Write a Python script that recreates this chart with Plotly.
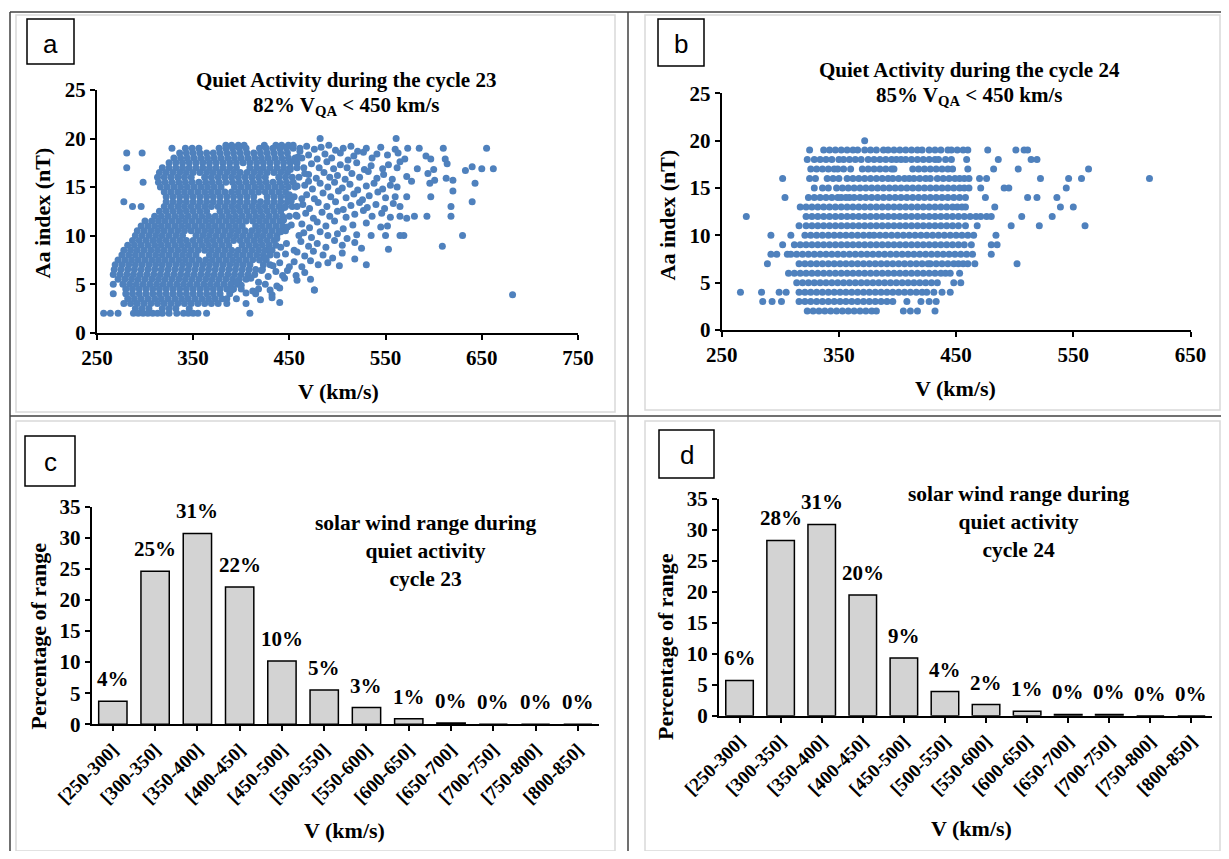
import plotly.graph_objects as go

# page size (browser window) and body margin of the html page
PAGE_W, PAGE_H, BODY = 1229, 859, 8
W, H = PAGE_W - 2 * BODY, PAGE_H - 2 * BODY

# ---------------- Data ----------------
# Panel a: cycle 23 quiet activity, dense core rows of V (km/s) at each Aa level (nT)
A23_LEVELS = [19.3, 19, 18.5, 18, 17.5, 17, 16.5, 16, 15.5, 15, 14.5, 14, 13.5, 13, 12.5, 12,
              11.5, 11, 10.5, 10, 9.5, 9, 8.5, 8, 7.5, 7, 6.5, 6, 5.5, 5, 4.5, 4, 3.5, 3, 2.5, 2]
A23_V_ROWS = [
    [384, 390, 397, 403, 424, 436, 442, 449],
    [328, 342, 349, 356, 377, 384, 391, 398, 405, 419, 426, 433, 440, 447, 454, 461],
    [281, 297, 336, 343, 350, 357, 364, 371, 378, 385, 392, 399, 406, 413, 420, 427, 434, 441, 448],
    [330, 337, 344, 351, 358, 365, 372, 379, 386, 393, 400, 407, 414, 421, 428, 435, 442, 449, 456, 463],
    [325, 332, 339, 346, 353, 360, 367, 374, 381, 388, 395, 402, 409, 416, 423, 430, 437, 444, 451, 458],
    [281, 318, 325, 332, 339, 346, 353, 360, 367, 374, 381, 388, 395, 409, 416, 423, 430, 437, 444, 451, 458, 465],
    [315, 322, 329, 336, 343, 350, 357, 364, 371, 378, 385, 392, 399, 406, 413, 420, 427, 434, 441, 448],
    [313, 320, 327, 334, 341, 348, 362, 369, 376, 383, 390, 397, 404, 411, 418, 425, 439, 446, 453, 460],
    [298, 314, 321, 328, 335, 342, 349, 356, 363, 370, 377, 384, 391, 398, 405, 412, 419, 426, 433, 440, 447, 454],
    [316, 323, 330, 337, 344, 351, 358, 365, 372, 379, 393, 400, 407, 414, 421, 428, 435, 442, 449, 456],
    [320, 327, 334, 341, 348, 355, 362, 369, 376, 383, 390, 397, 404, 411, 418, 425, 432, 439, 446],
    [322, 329, 336, 343, 350, 357, 364, 371, 378, 385, 392, 399, 406, 413, 427, 434, 441, 448, 455],
    [278, 322, 329, 336, 343, 350, 357, 364, 371, 378, 385, 392, 399, 406, 413, 420, 427, 434, 441, 448],
    [287, 296, 320, 327, 334, 341, 348, 355, 362, 369, 376, 383, 390, 397, 404, 411, 418, 425, 432, 439, 446, 453, 458],
    [315, 322, 329, 336, 343, 350, 357, 364, 378, 385, 392, 399, 406, 413, 420, 427, 434, 441],
    [310, 317, 324, 331, 338, 345, 352, 359, 366, 373, 380, 387, 394, 401, 408, 415, 422, 429, 436, 443, 450, 458],
    [300, 307, 314, 321, 328, 335, 342, 349, 356, 363, 370, 377, 384, 391, 398, 405, 412, 419, 426, 433, 440],
    [296, 303, 310, 317, 324, 331, 338, 345, 352, 359, 366, 373, 380, 387, 394, 401, 415, 422, 429, 436, 443],
    [292, 299, 306, 313, 320, 327, 334, 341, 348, 355, 362, 369, 376, 383, 390, 397, 404, 411, 418, 425, 432, 439, 446],
    [290, 297, 304, 311, 318, 325, 332, 339, 353, 360, 367, 374, 381, 388, 395, 402, 409, 416, 423, 430, 437],
    [287, 294, 301, 308, 315, 322, 329, 336, 343, 350, 357, 364, 371, 378, 385, 392, 399, 406, 413, 420, 427, 434],
    [282, 289, 296, 303, 310, 317, 324, 331, 338, 345, 352, 359, 366, 373, 380, 387, 401, 408, 415, 422, 429, 436],
    [278, 285, 292, 299, 306, 313, 320, 327, 334, 341, 348, 355, 362, 369, 376, 383, 390, 397, 404, 411, 418, 425, 432],
    [276, 283, 290, 297, 304, 311, 318, 325, 332, 339, 346, 353, 367, 374, 381, 388, 395, 402, 409, 416, 423, 430, 437],
    [272, 279, 286, 293, 300, 307, 314, 321, 328, 335, 342, 349, 356, 363, 370, 377, 384, 391, 398, 405, 412, 419, 426],
    [269, 276, 283, 290, 297, 304, 311, 318, 325, 332, 339, 346, 353, 360, 367, 374, 381, 388, 395, 402, 409, 423, 430],
    [268, 275, 282, 289, 296, 303, 310, 317, 324, 331, 338, 345, 352, 359, 366, 373, 380, 387, 394, 401, 408, 415, 422],
    [267, 274, 281, 288, 295, 302, 309, 316, 323, 330, 337, 344, 351, 358, 365, 372, 379, 386, 393, 400, 407, 414],
    [272, 279, 286, 293, 300, 307, 314, 321, 328, 335, 342, 349, 356, 363, 370, 377, 384, 391, 398, 405],
    [267, 277, 284, 291, 298, 305, 312, 319, 326, 333, 340, 347, 354, 361, 368, 375, 382, 389, 396],
    [280, 287, 294, 301, 308, 315, 322, 329, 336, 343, 350, 357, 364, 371, 378, 385, 392, 400],
    [267, 280, 287, 294, 301, 308, 315, 322, 329, 336, 343, 350, 357, 364, 371, 378, 388],
    [282, 289, 296, 303, 310, 317, 324, 331, 338, 345, 352, 359, 366, 373, 380, 385],
    [278, 285, 292, 299, 306, 313, 320, 327, 334, 341, 348, 355, 362, 369, 376, 385],
    [290, 297, 304, 318, 325, 332, 346],
    [257, 264, 272, 288, 293, 298, 303, 308, 313, 318, 325, 333, 340, 345, 350, 355, 364, 409],
]
# Panel a: scattered points outside the dense core
A23_WING_V = [468, 476, 483, 491, 498, 506, 514, 521, 530, 545, 560, 573, 585, 610, 655, 482, 561,
              470, 479, 487, 494, 503, 511, 517, 527, 536, 541, 552, 563, 570, 592, 597, 612, 614,
              473, 481, 489, 496, 503, 510, 520, 528, 535, 547, 553, 562, 565, 583, 600, 594, 640, 650, 662, 633,
              470, 478, 486, 492, 500, 508, 515, 523, 532, 541, 548, 557, 572, 601, 613, 620, 596, 643,
              466, 474, 482, 490, 497, 505, 513, 521, 530, 538, 547, 555, 562, 577, 620,
              468, 476, 485, 493, 501, 509, 517, 526, 533, 542, 550, 560, 572, 597, 640,
              464, 471, 480, 489, 498, 506, 514, 523, 531, 540, 549, 558, 565, 618, 565,
              467, 475, 484, 492, 500, 509, 518, 527, 536, 546, 555, 572, 580, 593, 618,
              463, 471, 479, 488, 497, 506, 516, 530, 545, 552,
              465, 473, 482, 490, 500, 510, 520, 535, 550, 565, 569, 630,
              462, 470, 479, 488, 497, 505, 518, 525, 609, 553,
              458, 466, 475, 485, 495, 505, 518, 530,
              455, 463, 472, 480, 490, 502,
              448, 457, 466, 472, 445, 458, 476,
              425, 437, 430, 440, 418, 476, 432, 405, 415, 682,
              395, 420, 432, 405, 440]
A23_WING_AA = [19.2, 18.9, 19.1, 19.3, 18.8, 19.0, 19.2, 18.7, 19.0, 19.1, 18.9, 19.0, 19.0, 19.0, 19.0, 20.0, 20.0,
               18.3, 17.9, 18.4, 18.0, 18.5, 17.8, 18.2, 18.6, 18.0, 18.4, 18.3, 18.5, 17.9, 18.2, 17.9, 17.9, 17.4,
               17.4, 17.0, 17.6, 16.9, 17.3, 17.0, 17.5, 16.8, 17.2, 16.9, 17.3, 17.0, 17.6, 16.9, 16.8, 16.4, 17.1, 16.9, 16.9, 16.7,
               16.3, 15.9, 16.5, 16.0, 16.2, 15.8, 16.4, 16.0, 16.6, 15.9, 16.3, 15.8, 16.1, 15.7, 15.9, 15.7, 15.4, 15.4,
               15.2, 14.8, 15.4, 15.0, 15.5, 14.9, 15.3, 14.7, 15.1, 15.4, 14.8, 15.2, 15.0, 15.6, 14.6,
               14.2, 13.8, 14.4, 14.0, 14.6, 13.9, 14.3, 13.7, 14.1, 14.5, 13.9, 14.0, 14.0, 14.0, 13.5,
               13.2, 12.8, 13.4, 13.0, 13.5, 12.7, 13.1, 13.4, 12.9, 13.2, 12.8, 13.3, 13.0, 13.0, 12.0,
               12.3, 11.8, 12.4, 12.0, 12.5, 11.9, 12.2, 12.6, 12.0, 12.3, 11.9, 11.8, 12.0, 12.0, 12.0,
               11.2, 10.8, 11.4, 11.0, 11.5, 10.7, 11.1, 11.3, 10.9, 11.0,
               10.3, 9.8, 10.4, 10.0, 10.2, 9.7, 10.1, 10.0, 10.0, 10.0, 10.0, 10.0,
               9.4, 8.9, 9.2, 8.8, 9.5, 9.0, 9.3, 8.7, 8.9, 8.6,
               8.3, 7.9, 8.4, 8.0, 7.7, 8.2, 7.6, 7.0,
               7.3, 6.8, 7.4, 7.0, 7.2, 6.9,
               6.4, 5.9, 6.2, 5.5, 5.6, 5.4, 4.4,
               5.0, 4.8, 4.4, 4.6, 4.5, 4.4, 3.9, 4.1, 4.0, 3.9,
               3.5, 3.4, 3.6, 3.0, 3.1]
# Panel a: points along the ragged right edge of the dense core
A23_EDGE_V = [441, 447, 452, 446, 440, 436, 428, 421, 418, 410,
              400, 445, 452, 458, 451, 459, 455, 450, 444, 437,
              430, 425, 433, 441, 448, 457, 463, 466, 461, 454,
              470, 460, 455, 450, 443, 412, 395, 390]
A23_EDGE_AA = [10.4, 9.2, 11.1, 8.1, 7.2, 6.3, 5.8, 6.4, 5.2, 5.6,
               4.9, 12.9, 13.6, 15.1, 16.8, 18.1, 17.7, 14.2, 11.6, 9.7,
               8.6, 7.7, 6.9, 8.8, 10.9, 12.1, 13.8, 16.4, 18.7, 19.3,
               15.6, 10.0, 8.5, 6.8, 5.9, 4.3, 5.2, 4.4]

# Panel b: cycle 24 quiet activity (integer Aa levels)
A24_LEVELS = [2, 3, 4, 5, 6, 7, 8, 9, 10, 11, 12, 13, 14, 15, 16, 17, 18, 19, 20]
A24_V_ROWS = [
    [323, 328, 333, 338, 343, 348, 353, 358, 363, 368, 373, 378, 382, 405, 411, 417, 432],
    [285, 293, 301, 316, 321, 326, 331, 336, 341, 346, 351, 356, 361, 366, 371, 376, 381, 386, 391, 396, 408, 420, 427, 433],
    [266, 284, 299, 305, 316, 321, 326, 331, 336, 341, 346, 351, 356, 361, 366, 371, 376, 381, 386, 391, 396, 401, 406, 411, 416, 421, 425, 431, 438, 445],
    [314, 319, 324, 329, 334, 339, 344, 349, 354, 359, 364, 369, 374, 379, 384, 389, 394, 399, 404, 409, 414, 419, 424, 429, 434, 448, 454],
    [307, 312, 317, 322, 327, 332, 337, 342, 347, 352, 357, 362, 367, 372, 377, 382, 387, 392, 397, 402, 407, 412, 417, 422, 427, 432, 437, 441, 445, 453],
    [289, 316, 321, 326, 331, 336, 341, 346, 351, 356, 361, 366, 371, 376, 381, 386, 391, 396, 401, 406, 411, 416, 421, 426, 428, 433, 438, 443, 448, 452, 456, 460, 466, 502],
    [292, 297, 306, 309, 314, 319, 324, 329, 334, 339, 344, 349, 354, 359, 364, 369, 374, 379, 384, 389, 394, 399, 404, 409, 414, 419, 424, 429, 434, 439, 444, 449, 454, 459, 464, 480],
    [302, 312, 317, 322, 327, 332, 337, 342, 347, 352, 357, 362, 367, 372, 377, 382, 387, 392, 397, 402, 407, 412, 417, 422, 427, 432, 437, 442, 447, 452, 457, 463, 480, 485],
    [292, 309, 321, 326, 331, 336, 341, 346, 351, 356, 361, 366, 371, 376, 380, 385, 390, 395, 400, 405, 410, 415, 420, 425, 430, 435, 440, 445, 450, 455, 460, 465, 484],
    [316, 322, 327, 332, 337, 342, 347, 352, 357, 362, 367, 372, 377, 382, 387, 392, 397, 402, 407, 412, 417, 422, 427, 432, 437, 442, 447, 452, 458, 468, 497, 521, 560],
    [271, 322, 327, 332, 337, 342, 347, 352, 357, 362, 367, 372, 377, 382, 387, 392, 397, 402, 407, 412, 417, 422, 427, 432, 437, 442, 447, 452, 457, 462, 467, 471, 476, 480, 506, 532],
    [317, 322, 327, 332, 337, 342, 347, 352, 357, 362, 367, 372, 377, 382, 387, 392, 397, 402, 407, 412, 417, 422, 427, 432, 437, 442, 447, 451, 455, 458, 483, 539, 550],
    [304, 324, 329, 334, 339, 344, 349, 352, 356, 359, 363, 368, 373, 378, 383, 388, 393, 398, 403, 408, 413, 418, 423, 428, 433, 438, 443, 448, 453, 458, 475, 511, 519, 536],
    [329, 336, 341, 348, 353, 358, 363, 368, 373, 378, 383, 388, 393, 398, 403, 408, 413, 418, 423, 428, 433, 438, 443, 448, 453, 457, 461, 471, 491, 495, 544],
    [302, 325, 330, 340, 345, 350, 357, 362, 367, 372, 377, 382, 387, 392, 396, 401, 406, 410, 414, 419, 424, 428, 434, 439, 444, 449, 453, 457, 461, 470, 476, 522, 546, 557, 615],
    [326, 331, 336, 341, 346, 349, 354, 360, 370, 375, 380, 385, 390, 395, 397, 413, 418, 423, 428, 433, 438, 443, 447, 460, 482, 503, 563],
    [323, 329, 334, 339, 344, 350, 354, 359, 364, 369, 375, 380, 385, 390, 395, 399, 403, 407, 412, 417, 422, 427, 432, 435, 441, 446, 459, 486, 514, 519],
    [325, 337, 342, 347, 352, 357, 362, 366, 372, 377, 382, 388, 392, 397, 402, 407, 412, 417, 421, 427, 432, 437, 443, 446, 451, 456, 460, 477, 501, 508, 511],
    [372],
]

# Panels c, d: histogram of solar wind ranges
RANGES = ["[250-300]", "[300-350]", "[350-400]", "[400-450]", "[450-500]", "[500-550]",
          "[550-600]", "[600-650]", "[650-700]", "[700-750]", "[750-800]", "[800-850]"]
PCT23 = [3.7, 24.6, 30.7, 22.1, 10.2, 5.5, 2.7, 0.9, 0.2, 0.0, 0.0, 0.0]
PCT23_LABELS = ["4%", "25%", "31%", "22%", "10%", "5%", "3%", "1%", "0%", "0%", "0%", "0%"]
PCT24 = [5.7, 28.3, 30.9, 19.5, 9.3, 3.9, 1.8, 0.7, 0.2, 0.2, 0.0, 0.0]
PCT24_LABELS = ["6%", "28%", "31%", "20%", "9%", "4%", "2%", "1%", "0%", "0%", "0%", "0%"]


def flatten(levels, rows):
    xs, ys = [], []
    for lv, row in zip(levels, rows):
        for v in row:
            xs.append(v)
            ys.append(lv)
    return xs, ys


def px(x):
    return (x - BODY) / W


def py(y):
    return 1 - (y - BODY) / H


SERIF = "Liberation Serif"
BLUE = "#4F81BD"

xa, ya = flatten(A23_LEVELS, A23_V_ROWS)
n_w = min(len(A23_WING_V), len(A23_WING_AA))
xa += A23_WING_V[:n_w]
ya += A23_WING_AA[:n_w]
n_e = min(len(A23_EDGE_V), len(A23_EDGE_AA))
xa += A23_EDGE_V[:n_e]
ya += A23_EDGE_AA[:n_e]
xb, yb = flatten(A24_LEVELS, A24_V_ROWS)

fig = go.Figure()
fig.add_trace(go.Scatter(x=xa, y=ya, mode="markers", xaxis="x", yaxis="y",
                         marker=dict(size=7, color=BLUE), showlegend=False))
fig.add_trace(go.Scatter(x=xb, y=yb, mode="markers", xaxis="x2", yaxis="y2",
                         marker=dict(size=7, color=BLUE), showlegend=False))
fig.add_trace(go.Bar(x=RANGES, y=PCT23, xaxis="x3", yaxis="y3",
                     marker=dict(color="#D3D3D3", line=dict(color="black", width=1.5)),
                     showlegend=False))
fig.add_trace(go.Bar(x=RANGES, y=PCT24, xaxis="x4", yaxis="y4",
                     marker=dict(color="#D3D3D3", line=dict(color="black", width=1.5)),
                     showlegend=False))

tickfont = dict(family=SERIF, size=21, color="black", weight="bold")
catfont = dict(family=SERIF, size=19, color="black", weight="bold")
common = dict(showline=True, linecolor="black", linewidth=2, ticks="outside", ticklen=5,
              tickwidth=2, tickcolor="black", showgrid=False, zeroline=False,
              automargin=False, fixedrange=True)

fig.update_layout(
    template="none",
    width=W, height=H, margin=dict(l=0, r=0, t=0, b=0, pad=0), autosize=False,
    paper_bgcolor="white", plot_bgcolor="white", bargap=0.33, showlegend=False,
    xaxis=dict(domain=[px(96.9), px(578)], range=[250, 750], tickvals=[250, 350, 450, 550, 650, 750],
               anchor="y", tickfont=tickfont, **common),
    yaxis=dict(domain=[py(332.7), py(90)], range=[0, 25], tickvals=[0, 5, 10, 15, 20, 25],
               anchor="x", tickfont=tickfont, **common),
    xaxis2=dict(domain=[px(721.7), px(1190.5)], range=[250, 650], tickvals=[250, 350, 450, 550, 650],
                anchor="y2", tickfont=tickfont, **common),
    yaxis2=dict(domain=[py(330), py(93.3)], range=[0, 25], tickvals=[0, 5, 10, 15, 20, 25],
                anchor="x2", tickfont=tickfont, **common),
    xaxis3=dict(domain=[px(91.7), px(599)], type="category", range=[-0.5, 11.5], tickangle=-45,
                anchor="y3", tickfont=catfont, **common),
    yaxis3=dict(domain=[py(724.3), py(506.7)], range=[0, 35], tickvals=[0, 5, 10, 15, 20, 25, 30, 35],
                anchor="x3", tickfont=tickfont, **common),
    xaxis4=dict(domain=[px(719), px(1212)], type="category", range=[-0.5, 11.5], tickangle=-45,
                anchor="y4", tickfont=catfont, **common),
    yaxis4=dict(domain=[py(715.7), py(499)], range=[0, 35], tickvals=[0, 5, 10, 15, 20, 25, 30, 35],
                anchor="x4", tickfont=tickfont, **common),
)

ann = []


def text(x, y, s, size=20, angle=0, family=SERIF, bold=True):
    ann.append(dict(x=px(x), y=py(y), xref="paper", yref="paper", text=s, showarrow=False,
                    xanchor="center", yanchor="middle", textangle=angle,
                    font=dict(family=family, size=size, color="black",
                              weight="bold" if bold else "normal")))


# bar value labels (placed from the data, lifted a little above each bar)
for xr, yr, vals, labs in [("x3", "y3", PCT23, PCT23_LABELS), ("x4", "y4", PCT24, PCT24_LABELS)]:
    for cat, v, lab in zip(RANGES, vals, labs):
        ann.append(dict(x=cat, y=v, xref=xr, yref=yr, text=lab, showarrow=False,
                        xanchor="center", yanchor="bottom", yshift=8,
                        font=dict(family=SERIF, size=21, color="black", weight="bold")))

# titles
text(346, 80, "Quiet Activity during the cycle 23", 21)
text(346, 106, "82% V<sub>QA</sub> < 450 km/s", 21)
text(969, 70, "Quiet Activity during the cycle 24", 21)
text(969, 96, "85% V<sub>QA</sub> < 450 km/s", 21)
# axis titles
text(41.5, 213, "Aa index (nT)", 22, -90)
text(338, 391, "V (km/s)", 22)
text(666.5, 215, "Aa index (nT)", 22, -90)
text(955, 388, "V (km/s)", 22)
text(37.5, 636, "Percentage of range", 22, -90)
text(344, 830, "V (km/s)", 22)
text(665, 647, "Percentage of range", 22, -90)
text(971, 828, "V (km/s)", 22)
# inner notes
text(425, 551, "solar wind range during<br>quiet activity<br>cycle 23", 21.5)
text(1018, 522, "solar wind range during<br>quiet activity<br>cycle 24", 21.5)
# panel letters
text(50.5, 44, "a", 26, family="Liberation Sans", bold=False)
text(681, 44, "b", 26, family="Liberation Sans", bold=False)
text(50, 462, "c", 26, family="Liberation Sans", bold=False)
text(686.5, 455, "d", 26, family="Liberation Sans", bold=False)
fig.update_layout(annotations=ann)

shapes = []


def rect(x0, y0, x1, y1, color="black", width=1.5):
    shapes.append(dict(type="rect", xref="paper", yref="paper", x0=px(x0), x1=px(x1),
                       y0=py(y1), y1=py(y0), line=dict(color=color, width=width)))


def line(x0, y0, x1, y1, color="#404040", width=1.5):
    shapes.append(dict(type="line", xref="paper", yref="paper", x0=px(x0), x1=px(x1),
                       y0=py(y0), y1=py(y1), line=dict(color=color, width=width), layer="below"))


# light chart-area borders
for (x0, y0, x1, y1) in [(16, 15, 615, 412), (645, 15, 1220, 410), (16, 421, 615, 851), (645, 421, 1220, 851)]:
    shapes.append(dict(type="rect", xref="paper", yref="paper", x0=px(x0), x1=px(x1),
                       y0=py(y1), y1=py(y0), line=dict(color="#D9D9D9", width=1.5), layer="below"))
# table lines
line(10, 12, 1221, 12)
line(10, 12, 10, 851)
line(628, 12, 628, 851)
line(10, 416, 1221, 416)
# letter boxes
rect(27, 19, 74, 64)
rect(658, 19, 704, 66)
rect(25, 436, 75, 486)
rect(659, 430, 714, 478)
fig.update_layout(shapes=shapes)

fig.write_html("out.html")
